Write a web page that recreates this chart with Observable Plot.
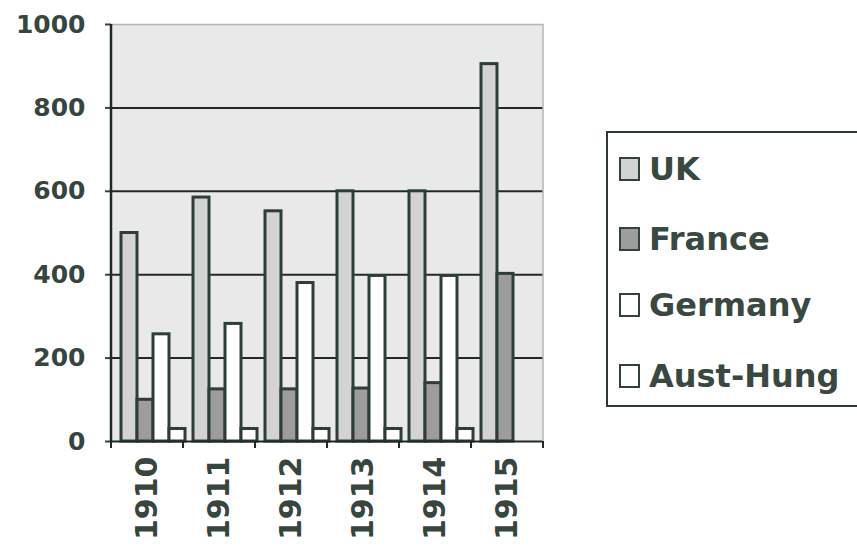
<!DOCTYPE html>
<html><head><meta charset="utf-8">
<script src="https://cdn.jsdelivr.net/npm/d3@7"></script>
<script src="https://cdn.jsdelivr.net/npm/@observablehq/plot@0.6"></script>
<style>
body{margin:0;background:#fff;}
#wrap{position:relative;width:857px;height:552px;overflow:hidden;background:#fff;}
#legend{position:absolute;left:606px;top:131px;width:280px;height:276px;border:2px solid #2c3833;box-sizing:border-box;background:#fff;font-family:"DejaVu Sans";font-weight:bold;font-size:32px;color:#3a4842;}
.item{position:absolute;left:11px;display:flex;align-items:center;height:40px;white-space:nowrap;}
.sw{width:21px;height:24px;border:2px solid #34423c;box-sizing:border-box;margin-right:9px;}
</style></head><body><div id="wrap"><div id="legend"></div></div>
<script>
const years = ["1910","1911","1912","1913","1914","1915"];
const series = ["UK","France","Germany","Aust-Hung"];
const uk = [500, 585, 552, 600, 600, 905];
const france = [100, 125, 125, 127, 140, 402];
const germany = [257, 282, 380, 397, 397, 0];
const austHung = [30, 30, 30, 30, 30, 0];
const yTicks = [0, 200, 400, 600, 800, 1000];
const gridVals = [200, 400, 600, 800];
const fills = ["#d3d3d3", "#9d9d9d", "#ffffff", "#ffffff"];

const seriesValues = [uk, france, germany, austHung];
const data = years.flatMap((yr, i) => series.map((s, j) => ({year: yr, series: s, value: seriesValues[j][i]})));

const dark = "#2c3e36";
const chart = Plot.plot({
  width: 857, height: 552,
  marginLeft: 108, marginRight: 312, marginTop: 24, marginBottom: 111,
  style: {fontFamily: "DejaVu Sans", fontWeight: "bold", color: "#37453f", background: "transparent", overflow: "visible"},
  fx: {domain: years, padding: 0, label: null},
  x: {domain: series, paddingInner: 0, paddingOuter: 0.25, axis: null},
  y: {domain: [0, 1000], label: null},
  color: {domain: series, range: fills},
  marks: [
    Plot.ruleY(gridVals, {stroke: "#1f2a26", strokeWidth: 2}),
    Plot.ruleY([1000], {stroke: "#b5b5b5", strokeWidth: 1.5}),
    Plot.barY(data, {fx: "year", x: "series", y: "value", fill: "series", stroke: dark, strokeWidth: 3, dx: 6}),
    Plot.ruleY([0], {stroke: "#1f2a26", strokeWidth: 2}),
    Plot.axisY({ticks: yTicks, tickFormat: d3.format("d"), tickSize: 6, tickPadding: 20, fontSize: 25, strokeWidth: 2, label: null}),
    Plot.axisFx({anchor: "bottom", tickRotate: -90, tickSize: 0, tickPadding: 15, fontSize: 30, label: null})
  ]
});

// background, boundary tick marks, left axis line and right border using the library's scales
const fxS = chart.scale("fx"), yS = chart.scale("y");
const bounds = years.map(y => fxS.apply(y)).concat([fxS.apply(years[years.length - 1]) + fxS.bandwidth]);
const y0 = yS.apply(0), yTop = yS.apply(1000);
const svg = d3.select(chart);
svg.insert("rect", ":first-child").attr("x", bounds[0]).attr("y", yTop).attr("width", bounds[bounds.length - 1] - bounds[0]).attr("height", y0 - yTop).attr("fill", "#e9e9e9");
const g = svg.append("g");
g.append("line").attr("x1", bounds[bounds.length - 1]).attr("x2", bounds[bounds.length - 1]).attr("y1", yTop).attr("y2", y0).attr("stroke", "#b5b5b5").attr("stroke-width", 1.5);
g.append("line").attr("x1", bounds[0]).attr("x2", bounds[0]).attr("y1", yTop).attr("y2", y0 + 1).attr("stroke", "#1f2a26").attr("stroke-width", 2.5);
g.selectAll(".bt").data(bounds).join("line").attr("x1", d => d).attr("x2", d => d).attr("y1", y0).attr("y2", y0 + 7).attr("stroke", "#1f2a26").attr("stroke-width", 2);

chart.style.position = "absolute"; chart.style.left = "0"; chart.style.top = "0";
document.getElementById("wrap").prepend(chart);

const legend = document.getElementById("legend");
const centers = [36, 106, 172, 243];
series.forEach((s, i) => {
  const it = document.createElement("div");
  it.className = "item";
  it.style.top = (centers[i] - 20) + "px";
  const sw = document.createElement("div");
  sw.className = "sw"; sw.style.background = fills[i];
  const t = document.createElement("span"); t.textContent = s;
  it.appendChild(sw); it.appendChild(t);
  legend.appendChild(it);
});
</script></body></html>
